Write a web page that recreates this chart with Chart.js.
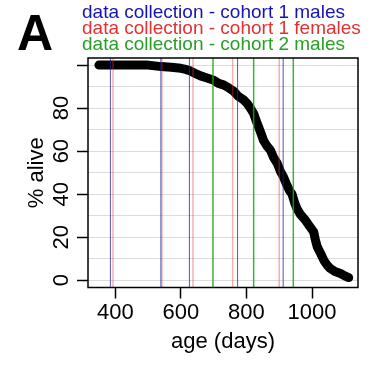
<!DOCTYPE html>
<html>
<head>
<meta charset="utf-8">
<script src="https://cdn.jsdelivr.net/npm/chart.js@4/dist/chart.umd.min.js"></script>
<style>
  html, body { margin: 0; padding: 0; background: #ffffff; }
  #wrap { width: 372px; height: 366px; position: relative; }
</style>
</head>
<body>
<div id="wrap"><canvas id="c" width="372" height="366"></canvas></div>
<script>
// ---- data ----
const survivalDays = [350, 400, 450, 500, 540, 570, 600, 615, 630, 645, 660, 680, 700, 715, 730, 745, 760, 775, 790, 802, 812, 822, 830, 837, 845, 852, 862, 873, 883, 894, 904, 913, 924, 932, 939, 947, 954, 965, 980, 993, 1005, 1010, 1016, 1026, 1036, 1046, 1056, 1070, 1087, 1100, 1112];
const survivalPct  = [100, 100, 100, 100, 99.3, 99, 98.5, 98, 97.2, 96, 95, 94, 93, 91.5, 90.8, 89.5, 88, 85.5, 84, 82.2, 80, 77.5, 74, 71.3, 68, 65, 62.5, 60.5, 57, 54.3, 50.5, 48, 44, 41.5, 40, 36, 33.3, 30.5, 27.9, 25, 22.5, 19, 15.5, 12.5, 9.3, 7, 5.4, 4, 3.1, 2, 1.2];
const cohort1MalesDays   = [385, 539, 626, 773, 912];
const cohort1FemalesDays = [393, 542, 637, 758, 900];
const cohort2MalesDays   = [698, 822, 943];
const xTickValues = [400, 600, 800, 1000];
const yTickValues = [0, 20, 40, 60, 80, 100];
const yTickLabels = ["0", "20", "40", "60", "80", ""];
const yGridValues = [0, 10, 20, 30, 40, 50, 60, 70, 80, 90, 100];
const legendTexts = ["data collection - cohort 1 males", "data collection - cohort 1 females", "data collection - cohort 2 males"];
const panelLabel = "A";
const xTitle = "age (days)";
const yTitle = "% alive";

const X_MIN = 316.7, X_MAX = 1140.3, Y_MIN = -3.4, Y_MAX = 103.3;

function vlines(days) {
  const pts = [];
  days.forEach(d => { pts.push({x: d, y: Y_MIN}); pts.push({x: d, y: Y_MAX}); pts.push({x: d, y: null}); });
  return pts;
}

const FONT = "'Liberation Sans', Arial, Helvetica, sans-serif";

const decor = {
  id: 'decor',
  afterDraw(chart) {
    const ctx = chart.ctx;
    const a = chart.chartArea;
    const ys = chart.scales.y;
    ctx.save();
    // plot box
    ctx.strokeStyle = '#000';
    ctx.lineWidth = 1.5;
    ctx.strokeRect(a.left, a.top, a.right - a.left, a.bottom - a.top);
    // y tick labels (rotated, R style)
    ctx.fillStyle = '#000';
    ctx.font = '22px ' + FONT;
    ctx.textAlign = 'center';
    ctx.textBaseline = 'alphabetic';
    yTickValues.forEach((v, i) => {
      const py = ys.getPixelForValue(v);
      ctx.save();
      ctx.translate(a.left - 20, py);
      ctx.rotate(-Math.PI / 2);
      ctx.fillText(yTickLabels[i], 0, 0);
      ctx.restore();
    });
    // y title
    ctx.save();
    ctx.translate(a.left - 45, (a.top + a.bottom) / 2);
    ctx.rotate(-Math.PI / 2);
    ctx.fillText(yTitle, 0, 0);
    ctx.restore();
    // panel label
    ctx.textAlign = 'left';
    ctx.font = 'bold 50px ' + FONT;
    ctx.fillText(panelLabel, 17, 50);
    // legend texts
    ctx.font = '19px ' + FONT;
    const cols = ['#1414b4', '#e03232', '#28a028'];
    const base = [18.3, 34.3, 50];
    legendTexts.forEach((t, i) => {
      ctx.fillStyle = cols[i];
      ctx.fillText(t, 82, base[i]);
    });
    ctx.restore();
  }
};

new Chart(document.getElementById('c'), {
  type: 'line',
  data: {
    datasets: [
      { label: 'cohort 1 males', data: vlines(cohort1MalesDays), borderColor: 'rgba(30,30,160,0.75)', borderWidth: 1, pointRadius: 0, spanGaps: false, order: 1 },
      { label: 'cohort 1 females', data: vlines(cohort1FemalesDays), borderColor: 'rgba(230,60,60,0.4)', borderWidth: 1.5, pointRadius: 0, spanGaps: false, order: 2 },
      { label: 'cohort 2 males', data: vlines(cohort2MalesDays), borderColor: 'rgba(20,170,20,0.85)', borderWidth: 1.5, pointRadius: 0, spanGaps: false, order: 3 },
      { label: 'survival', data: survivalDays.map((d, i) => ({x: d, y: survivalPct[i]})), borderColor: '#000', borderWidth: 9, borderCapStyle: 'round', borderJoinStyle: 'round', pointRadius: 0, tension: 0, order: 4 }
    ]
  },
  options: {
    responsive: false,
    animation: false,
    devicePixelRatio: 1,
    layout: { padding: { top: 58, right: 14, left: 0, bottom: 0 } },
    plugins: { legend: { display: false }, tooltip: { enabled: false } },
    scales: {
      x: {
        type: 'linear', min: X_MIN, max: X_MAX,
        afterBuildTicks: s => { s.ticks = xTickValues.map(v => ({value: v})); },
        afterFit: s => { s.height = 366 - 287.5; },
        grid: { drawOnChartArea: false, drawTicks: true, tickLength: 11, tickColor: '#000', tickWidth: 1.5 },
        border: { display: false },
        ticks: { color: '#000', font: { size: 22, family: FONT }, padding: 1, maxRotation: 0, autoSkip: false, callback: v => String(v) },
        title: { display: true, text: xTitle, color: '#000', font: { size: 22, family: FONT }, padding: { top: 0, bottom: 11 } }
      },
      y: {
        type: 'linear', min: Y_MIN, max: Y_MAX,
        afterBuildTicks: s => { s.ticks = yGridValues.map(v => ({value: v})); },
        afterFit: s => { s.width = 88; },
        grid: {
          color: '#dcdcdc', lineWidth: 1, drawTicks: true, tickLength: 11, tickWidth: 1.5,
          tickColor: c => (c.tick && c.tick.value % 20 === 0) ? '#000' : 'rgba(0,0,0,0)'
        },
        border: { display: false },
        ticks: { display: false }
      }
    }
  },
  plugins: [decor]
});
</script>
</body>
</html>
